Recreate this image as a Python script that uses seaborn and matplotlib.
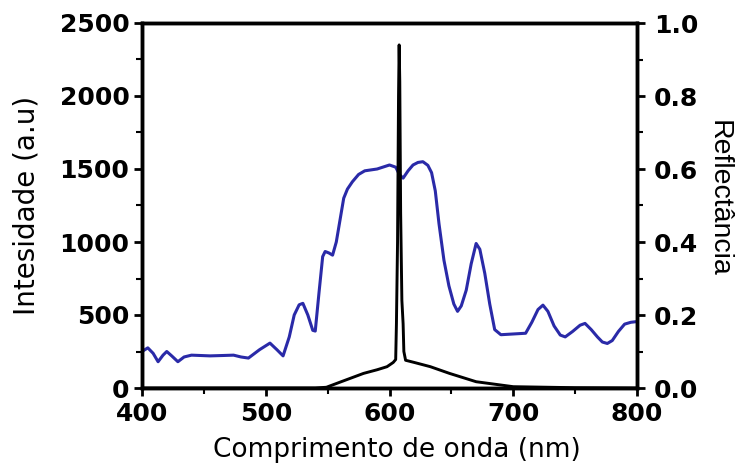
import numpy as np
import pandas as pd
import matplotlib
matplotlib.use("Agg")
import matplotlib.pyplot as plt
import seaborn as sns
from matplotlib.ticker import MultipleLocator

# Reflectance spectrum (blue), right axis
refl_nm = [400, 404.7, 409, 413, 417, 420, 424, 429, 434, 440, 455, 465, 474, 480, 486,
           495, 503.4, 509, 514, 519, 523, 527, 530, 534, 538, 540, 543, 546, 548, 551,
           554, 557, 560, 563, 566, 570, 575, 580, 590, 600, 605, 608, 611, 615, 619,
           623, 627, 631, 634, 637, 640, 644, 648, 652, 655, 658, 662, 666, 670, 673,
           677, 681, 685, 690, 700, 710, 715, 720, 724, 728, 733, 738, 742, 748, 754,
           758, 763, 768, 772, 776, 780, 785, 790, 795, 800]
refl_val = [0.100, 0.110, 0.095, 0.072, 0.090, 0.100, 0.088, 0.072, 0.085, 0.090,
            0.088, 0.089, 0.090, 0.085, 0.082, 0.105, 0.123, 0.105, 0.088, 0.140,
            0.200, 0.228, 0.232, 0.200, 0.158, 0.156, 0.260, 0.360, 0.374, 0.370,
            0.364, 0.400, 0.460, 0.520, 0.545, 0.565, 0.585, 0.595, 0.600, 0.611,
            0.605, 0.585, 0.575, 0.595, 0.611, 0.618, 0.620, 0.610, 0.590, 0.540,
            0.450, 0.350, 0.280, 0.230, 0.210, 0.225, 0.268, 0.340, 0.396, 0.380,
            0.314, 0.230, 0.160, 0.146, 0.148, 0.150, 0.180, 0.215, 0.227, 0.210,
            0.170, 0.145, 0.140, 0.155, 0.172, 0.177, 0.160, 0.140, 0.126, 0.122,
            0.130, 0.155, 0.175, 0.180, 0.182]

# Emission spectrum (black), left axis
emis_nm = [400, 450, 500, 540, 549, 560, 579, 590, 598, 603, 605, 605.6, 606.5, 607.3,
           607.8, 608.3, 609, 610, 611, 611.6, 613, 620, 633, 648.5, 670, 700, 750, 800]
emis_val = [0, 0, 0, 0, 5, 40, 100, 125, 146, 175, 195, 440, 1000, 2000,
            2350, 2100, 1200, 600, 440, 250, 190, 175, 146, 100, 43, 9, 2, 0]

x_ticks = [400, 500, 600, 700, 800]
left_ticks = [0, 500, 1000, 1500, 2000, 2500]
right_ticks = [0.0, 0.2, 0.4, 0.6, 0.8, 1.0]

sns.set_style("ticks")
plt.rcParams['font.family'] = ['DejaVu Sans']
plt.rcParams['text.color'] = 'black'
plt.rcParams['axes.labelcolor'] = 'black'
plt.rcParams['xtick.color'] = 'black'
plt.rcParams['ytick.color'] = 'black'

fig = plt.figure(figsize=(7.37, 4.65), dpi=100)
ax = fig.add_axes([142/737, 1-388/465, (637-142)/737, (388-23)/465])
ax2 = ax.twinx()
ax.set_zorder(ax2.get_zorder() + 1)
ax.patch.set_visible(False)

emis_df = pd.DataFrame({"nm": emis_nm, "val": emis_val})
refl_df = pd.DataFrame({"nm": refl_nm, "val": refl_val})

sns.lineplot(data=emis_df, x="nm", y="val", ax=ax, color="black", lw=2.1)
sns.lineplot(data=refl_df, x="nm", y="val", ax=ax2, color="#2a2aa8", lw=2.2)

ax.set_xlim(400, 800)
ax.set_ylim(0, 2500)
ax2.set_ylim(0, 1.0)
ax.set_xticks(x_ticks)
ax.set_yticks(left_ticks)
ax2.set_yticks(right_ticks)
ax.xaxis.set_minor_locator(MultipleLocator(50))
ax.yaxis.set_minor_locator(MultipleLocator(250))
ax2.yaxis.set_minor_locator(MultipleLocator(0.1))

tfont = dict(fontsize=18, fontweight="bold", family="DejaVu Sans", color="black")
ax.set_xticklabels([str(v) for v in x_ticks], **tfont)
ax.set_yticklabels([str(v) for v in left_ticks], **tfont)
ax2.set_yticklabels([f"{v:.1f}" for v in right_ticks], **tfont)

for a in (ax, ax2):
    for s in a.spines.values():
        s.set_linewidth(2.5)
        s.set_color("black")
        s.set_visible(True)
    a.tick_params(which="major", direction="out", length=6, width=2, color="black")
    a.tick_params(which="minor", direction="out", length=4, width=1.5, color="black")
ax.tick_params(axis="x", which="major", pad=4)
ax.tick_params(axis="y", which="major", pad=3)
ax2.tick_params(axis="y", which="major", pad=6)

ax.set_xlabel("Comprimento de onda (nm)", fontsize=19, family="DejaVu Sans",
              color="black", labelpad=6)
ax.xaxis.set_label_coords(0.515, -0.135)
ax.set_ylabel("Intesidade (a.u)", fontsize=20, family="DejaVu Sans",
              color="black", labelpad=14)
ax2.set_ylabel("Reflectância", fontsize=20.5, family="Liberation Sans",
               color="black", rotation=270)
ax2.yaxis.set_label_coords(1.192, 0.52)

fig.savefig("out.png", dpi=100)
